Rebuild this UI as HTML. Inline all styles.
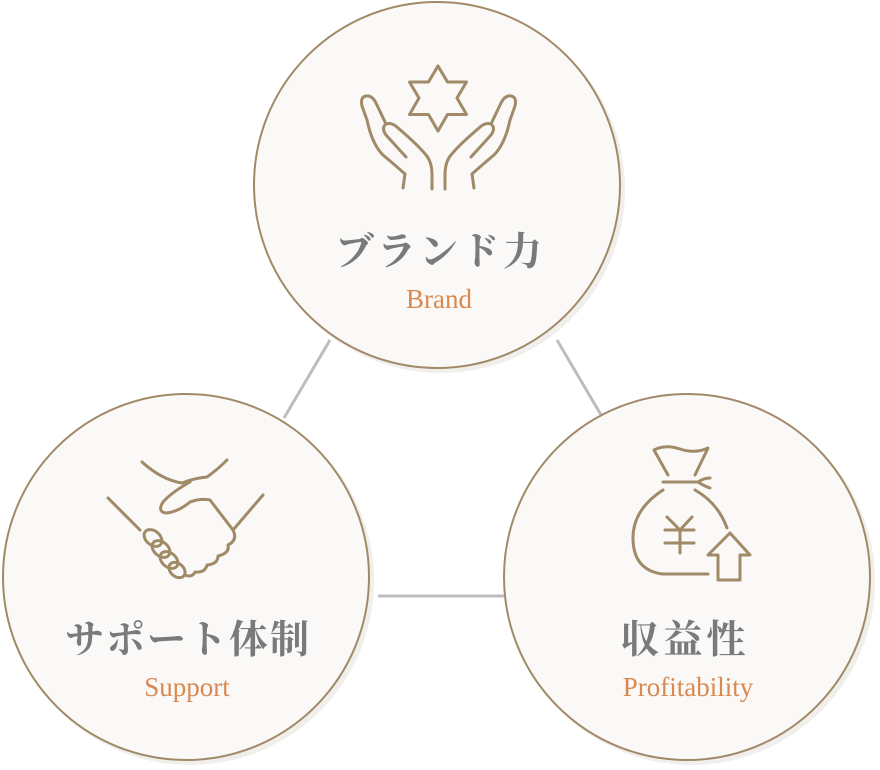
<!DOCTYPE html>
<html><head><meta charset="utf-8"><style>
html,body{margin:0;padding:0;background:#fff;}
svg{display:block}
.jp{font-family:"Liberation Serif","Noto Serif CJK SC",serif;font-weight:bold;fill:#7a7a7a;}
.en{font-family:"Liberation Serif",serif;fill:#d9884f;}
</style></head><body>
<svg width="880" height="770" viewBox="0 0 880 770" xmlns="http://www.w3.org/2000/svg">
<g stroke="#bdbdbd" stroke-width="3">
<line x1="330" y1="340" x2="284" y2="418"/>
<line x1="557" y1="340" x2="604" y2="420"/>
<line x1="378" y1="596" x2="508" y2="596"/>
</g>
<g fill="#f1efec">
<circle cx="441" cy="189" r="184"/>
<circle cx="190" cy="581" r="184"/>
<circle cx="691" cy="581" r="184"/>
</g>
<g fill="#faf9f7" stroke="#a08a68" stroke-width="2">
<circle cx="437" cy="185" r="183"/>
<circle cx="186" cy="577" r="183"/>
<circle cx="687" cy="577" r="183"/>
</g>
<g fill="none" stroke="#a08a68" stroke-width="3" stroke-linecap="round" stroke-linejoin="round">
<polygon points="438,66 447.5,82 466.5,82 457,98 466.5,114.5 447.5,114.5 438,131 428.5,114.5 409.5,114.5 419,98 409.5,82 428.5,82"/>
<path d="M403,188 L405,174 Q395,165 383,155 Q372,144 367,120 L362,106 Q360,97 366,96 Q372,95 376,103 L386,124"/>
<path d="M406,157 L386,135 Q381,128 386,124 Q392,122 398,128 Q418,145 426,155 Q432,162 432,175 L432,189"/>
<g transform="translate(877,0) scale(-1,1)">
<path d="M403,188 L405,174 Q395,165 383,155 Q372,144 367,120 L362,106 Q360,97 366,96 Q372,95 376,103 L386,124"/>
<path d="M406,157 L386,135 Q381,128 386,124 Q392,122 398,128 Q418,145 426,155 Q432,162 432,175 L432,189"/>
</g>
<path d="M142,462 Q162,480 182,483 Q195,478 207,477 Q217,470 227,460"/>
<path d="M190,482 Q172,492 163,502 Q157,512 166,513 Q178,512 190,502 Q200,498 210,500 L233,530"/>
<path d="M263,495 L233,530 Q238,540 228,545 Q230,553 218,556 Q218,564 207,565 Q205,573 195,572 Q192,578 185,575"/>
<path d="M108,498 L140,530"/>
<ellipse cx="153" cy="538" rx="10" ry="7" transform="rotate(40 153 538)"/>
<ellipse cx="161" cy="549" rx="10" ry="7" transform="rotate(40 161 549)"/>
<ellipse cx="169" cy="560" rx="10" ry="7" transform="rotate(40 169 560)"/>
<ellipse cx="177" cy="570" rx="9" ry="6.5" transform="rotate(40 177 570)"/>
<path d="M668,475 L654,450 Q665,444 680,449 Q695,454 708,448 L695,475"/>
<path d="M663,482 L698,482 Q704,478 710,478 M698,482 Q704,486 710,488"/>
<path d="M663,490 Q632,510 633,540 Q634,570 662,574 L708,574"/>
<path d="M695,490 Q718,503 727,528"/>
<path d="M667,517 L680,530 L692,517 M665,530 L694,530 M665,543 L694,543 M680,530 L680,553"/>
<path d="M718,580 L718,555 L708,555 L730,533 L750,555 L740,555 L740,580 Z"/>
</g>
<text class="jp" x="440" y="265" font-size="39" text-anchor="middle" letter-spacing="3">ブランド力</text>
<text class="en" x="439" y="308" font-size="27" text-anchor="middle">Brand</text>
<text class="jp" x="188" y="653" font-size="39" text-anchor="middle" letter-spacing="2">サポート体制</text>
<text class="en" x="187" y="696" font-size="27" text-anchor="middle">Support</text>
<text class="jp" x="685" y="653" font-size="39" text-anchor="middle" letter-spacing="4">収益性</text>
<text class="en" x="688" y="696" font-size="27" text-anchor="middle">Profitability</text>
</svg>
</body></html>
